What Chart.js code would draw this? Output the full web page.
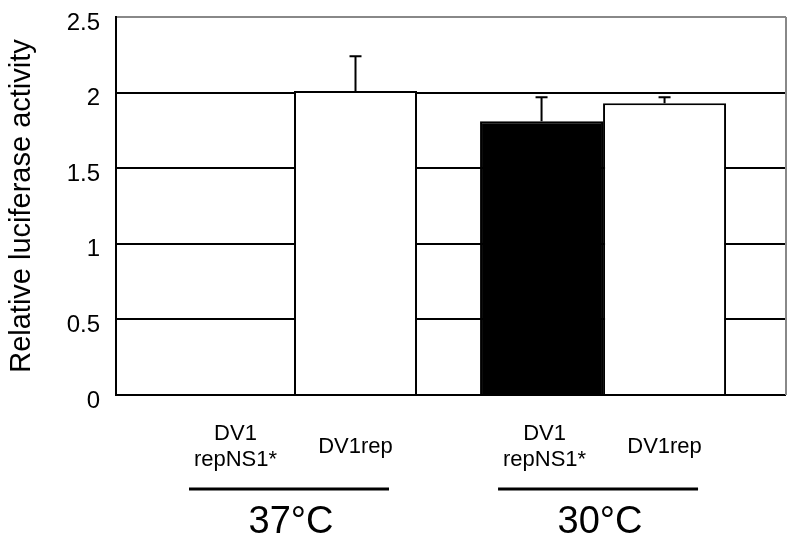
<!DOCTYPE html>
<html>
<head>
<meta charset="utf-8">
<script src="https://cdn.jsdelivr.net/npm/chart.js@4/dist/chart.umd.min.js"></script>
<style>
  html, body { margin: 0; padding: 0; background: #fff; }
  #wrap { width: 800px; height: 546px; }
</style>
</head>
<body>
<div id="wrap"><canvas id="chart"></canvas></div>
<script>
// Data
const groups = ['37°C', '30°C'];
const seriesNames = [['DV1', 'repNS1*'], ['DV1rep']];
const mutantValues = [0, 1.81];
const mutantErrors = [0, 0.16];
const wildValues = [2.01, 1.93];
const wildErrors = [0.23, 0.04];
const yTicks = [0, 0.5, 1, 1.5, 2, 2.5];

const FONT = "'Liberation Sans', Arial, sans-serif";

// error whiskers (upper only) + labels under the bars
const annotatePlugin = {
  id: 'annotate',
  afterDatasetsDraw(chart) {
    const ctx = chart.ctx;
    const y = chart.scales.y;
    const errs = [mutantErrors, wildErrors];
    ctx.save();
    ctx.strokeStyle = '#000';
    ctx.lineWidth = 2;
    chart.data.datasets.forEach((ds, d) => {
      chart.getDatasetMeta(d).data.forEach((bar, i) => {
        const v = ds.data[i].y;
        const top = y.getPixelForValue(v + errs[d][i]);
        const base = y.getPixelForValue(v);
        ctx.beginPath();
        ctx.moveTo(bar.x, base);
        ctx.lineTo(bar.x, top);
        ctx.moveTo(bar.x - 6, top);
        ctx.lineTo(bar.x + 6, top);
        ctx.stroke();
      });
    });
    ctx.restore();
  },
  afterDraw(chart) {
    const ctx = chart.ctx;
    const area = chart.chartArea;
    const x = chart.scales.x;
    ctx.save();
    // right frame
    ctx.strokeStyle = '#888';
    ctx.lineWidth = 2;
    ctx.beginPath();
    ctx.moveTo(area.right, area.top);
    ctx.lineTo(area.right, area.bottom);
    ctx.stroke();

    ctx.fillStyle = '#000';
    ctx.textAlign = 'center';
    ctx.textBaseline = 'alphabetic';
    ctx.font = `22px ${FONT}`;
    groups.forEach((g, i) => {
      // sub labels
      chart.data.datasets.forEach((ds, d) => {
        const bx = chart.getDatasetMeta(d).data[i].x;
        const lines = seriesNames[d];
        if (lines.length === 2) {
          ctx.fillText(lines[0], bx + 3, 440);
          ctx.fillText(lines[1], bx + 3, 466);
        } else {
          ctx.fillText(lines[0], bx, 453);
        }
      });
      const gx = x.getPixelForValue(i);
      ctx.strokeStyle = '#000';
      ctx.lineWidth = 3;
      ctx.beginPath();
      ctx.moveTo(gx - 105, 489);
      ctx.lineTo(gx + 95, 489);
      ctx.stroke();
      ctx.font = `38px ${FONT}`;
      ctx.fillText(g, gx - 3, 533);
      ctx.font = `22px ${FONT}`;
    });
    ctx.restore();
  }
};

new Chart(document.getElementById('chart'), {
  type: 'bar',
  data: {
    datasets: [
      {
        label: 'DV1 repNS1*',
        data: mutantValues.map((v, i) => ({ x: i, y: v })),
        backgroundColor: '#000',
        borderColor: '#000',
        borderWidth: 2
      },
      {
        label: 'DV1rep',
        data: wildValues.map((v, i) => ({ x: i, y: v })),
        backgroundColor: '#fff',
        borderColor: '#000',
        borderWidth: 2
      }
    ]
  },
  options: {
    responsive: true,
    maintainAspectRatio: false,
    animation: false,
    categoryPercentage: 0.796,
    barPercentage: 1,
    layout: {
      padding: { top: 17, right: 14, bottom: 151, left: 0 }
    },
    plugins: {
      legend: { display: false },
      tooltip: { enabled: false }
    },
    scales: {
      x: {
        type: 'linear',
        min: -0.576,
        max: 1.592,
        offset: false,
        display: false,
        afterBuildTicks: (scale) => {
          scale.ticks = groups.map((g, i) => ({ value: i }));
        }
      },
      y: {
        min: 0,
        max: 2.5,
        afterBuildTicks: (scale) => {
          scale.ticks = yTicks.map((v) => ({ value: v }));
        },
        afterFit: (scale) => {
          scale.width = 116;
        },
        ticks: {
          color: '#000',
          padding: 0,
          labelOffset: 6,
          font: { family: FONT, size: 24 },
          callback: (v) => String(v)
        },
        grid: {
          drawTicks: true,
          tickLength: 16,
          tickColor: 'rgba(0,0,0,0)',
          lineWidth: 2,
          color: (c) => (c.tick && c.tick.value === 2.5 ? '#888' : '#000')
        },
        border: { color: '#000', width: 2 },
        title: {
          display: true,
          text: 'Relative luciferase activity',
          color: '#000',
          font: { family: FONT, size: 29 },
          padding: { top: 5, bottom: 2 }
        }
      }
    }
  },
  plugins: [annotatePlugin]
});
</script>
</body>
</html>
